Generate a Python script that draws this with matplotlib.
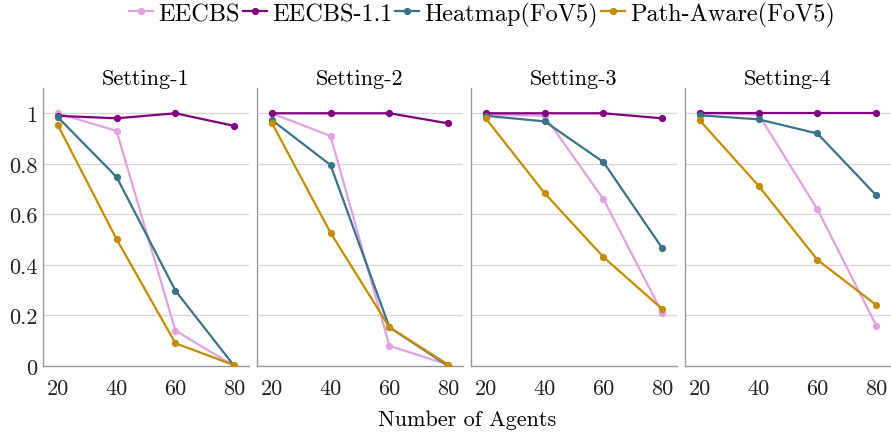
import matplotlib
matplotlib.use("Agg")
import matplotlib.pyplot as plt

plt.rcParams['font.family'] = ['cmr10', 'DejaVu Serif']
plt.rcParams['mathtext.fontset'] = 'cm'
plt.rcParams['axes.formatter.use_mathtext'] = True

agents = [20, 40, 60, 80]
settings = ["Setting-1", "Setting-2", "Setting-3", "Setting-4"]
series_names = ["EECBS", "EECBS-1.1", "Heatmap(FoV5)", "Path-Aware(FoV5)"]
colors = ["#e0a2e0", "#800080", "#3b7389", "#c38d00"]

eecbs = [
    [1.00, 0.93, 0.14, 0.00],
    [1.00, 0.91, 0.08, 0.005],
    [0.995, 0.99, 0.66, 0.21],
    [1.00, 0.995, 0.62, 0.16],
]
eecbs_11 = [
    [0.99, 0.98, 1.00, 0.95],
    [1.00, 1.00, 1.00, 0.96],
    [1.00, 1.00, 1.00, 0.98],
    [1.00, 1.00, 1.00, 1.00],
]
heatmap = [
    [0.985, 0.748, 0.298, 0.00],
    [0.974, 0.795, 0.153, 0.00],
    [0.99, 0.968, 0.807, 0.466],
    [0.992, 0.976, 0.92, 0.675],
]
path_aware = [
    [0.954, 0.502, 0.09, 0.003],
    [0.963, 0.527, 0.153, 0.005],
    [0.98, 0.684, 0.431, 0.225],
    [0.972, 0.713, 0.42, 0.241],
]
all_series = [eecbs, eecbs_11, heatmap, path_aware]

yticks = [0, 0.2, 0.4, 0.6, 0.8, 1.0]
ytick_labels = ["0", "0.2", "0.4", "0.6", "0.8", "1"]

fig = plt.figure(figsize=(8.91, 4.35), dpi=100)
left0 = 43 / 891
width = 206 / 891
step = 214 / 891
bottom = 1 - 367 / 435
height = (367 - 89) / 435

axes = []
for i, title in enumerate(settings):
    ax = fig.add_axes([left0 + i * step, bottom, width, height])
    axes.append(ax)
    for s, name, c in zip(all_series, series_names, colors):
        ax.plot(agents, s[i], color=c, lw=1.6, marker='o', markersize=4.2,
                label=name, zorder=3)
    ax.set_xlim(15, 85)
    ax.set_ylim(0, 1.1)
    ax.set_xticks(agents)
    ax.set_xticklabels([str(a) for a in agents])
    ax.set_yticks(yticks)
    if i == 0:
        ax.set_yticklabels(ytick_labels)
    else:
        ax.set_yticklabels([])
    ax.grid(axis='y', color='#d6d6d6', lw=0.9)
    ax.set_axisbelow(True)
    for sp in ['top', 'right']:
        ax.spines[sp].set_visible(False)
    for sp in ['left', 'bottom']:
        ax.spines[sp].set_color('#999999')
        ax.spines[sp].set_linewidth(1.0)
    ax.tick_params(length=0, labelsize=16, colors='#222222')
    ax.tick_params(axis='x', pad=9)
    ax.tick_params(axis='y', pad=4)
    ax.set_title(title, fontsize=16, pad=2.5)

fig.text((43 + 892) / 2 / 891, 1 - 420 / 435, "Number of Agents", ha='center',
         va='center', fontsize=16)

handles, labels = axes[0].get_legend_handles_labels()
fig.legend(handles, labels, loc='center', bbox_to_anchor=(482 / 891, 1 - 15 / 435),
           ncol=4, frameon=False, fontsize=17.5, handlelength=1.0,
           handletextpad=0.2, columnspacing=0.12, borderaxespad=0)

fig.savefig("out.png", dpi=100)
